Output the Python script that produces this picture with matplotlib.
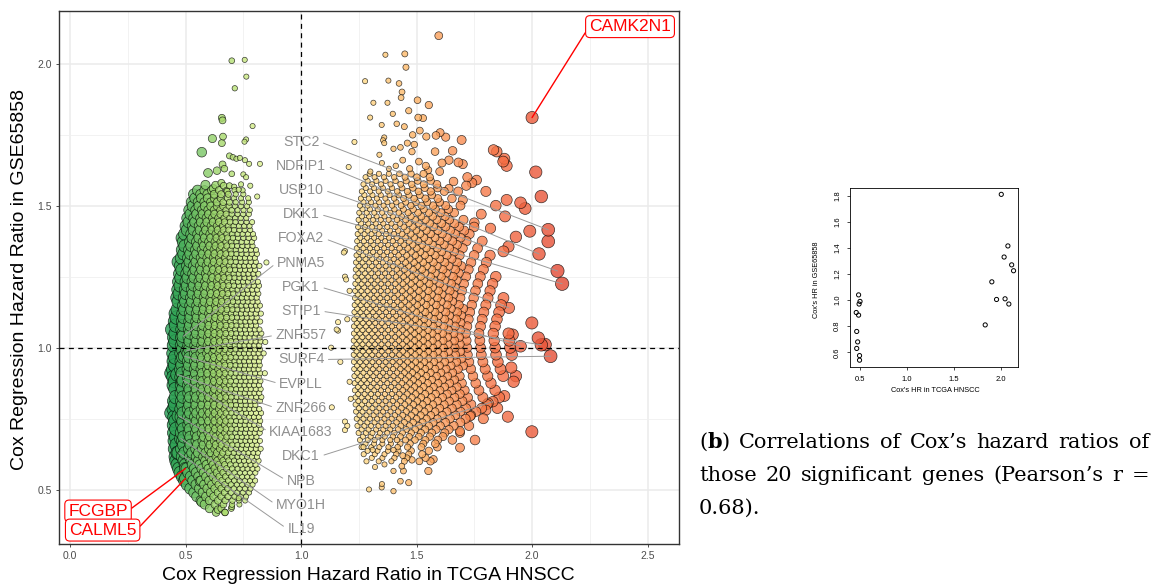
import numpy as np
import matplotlib.pyplot as plt
from matplotlib.colors import Normalize

# ---- the 20 significant genes (TCGA HR, GSE65858 HR) ----
genes = ["CAMK2N1", "STC2", "NDFIP1", "USP10", "DKK1", "FOXA2", "PGK1", "STIP1",
         "SURF4", "DKC1", "PNMA5", "ZNF557", "EVPLL", "ZNF266", "KIAA1683", "NPB",
         "MYO1H", "IL19", "FCGBP", "CALML5"]
gene_tcga = [2.00, 2.07, 2.03, 2.11, 2.13, 1.90, 1.95, 2.04, 2.08, 1.83,
             0.49, 0.505, 0.495, 0.465, 0.49, 0.47, 0.48, 0.47, 0.50, 0.50]
gene_gse = [1.81, 1.415, 1.33, 1.27, 1.225, 1.14, 1.005, 1.01, 0.97, 0.81,
            1.04, 0.99, 0.97, 0.905, 0.885, 0.76, 0.68, 0.63, 0.575, 0.54]

grey_labels = ["STC2", "NDFIP1", "USP10", "DKK1", "FOXA2", "PNMA5", "PGK1", "STIP1",
               "ZNF557", "SURF4", "EVPLL", "ZNF266", "KIAA1683", "DKC1", "NPB",
               "MYO1H", "IL19"]
red_labels = ["CAMK2N1", "FCGBP", "CALML5"]

# ---- background genes, read row by row: GSE HR, TCGA HR in thousandths ----
green_rows = [
    (0.420, "632 671"),
    (0.434, "604 655 698"),
    (0.448, "583 627 664 701 733"),
    (0.462, "566 604 641 672 703 731 758"),
    (0.476, "549 589 622 655 684 712 739 762"),
    (0.490, "537 575 608 640 669 697 723 748 775"),
    (0.504, "521 560 594 626 655 683 709 734 757 781"),
    (0.518, "507 546 581 613 643 671 697 722 745 769 790"),
    (0.532, "496 533 568 601 631 659 686 711 734 757 779 801"),
    (0.546, "487 523 557 589 619 647 674 699 722 745 767 789"),
    (0.560, "478 513 547 579 608 636 663 688 712 735 757 778 802"),
    (0.574, "472 506 539 570 599 627 653 678 702 725 747 768 790 811"),
    (0.588, "466 499 531 562 591 619 645 670 694 717 739 760 781 803"),
    (0.602, "461 494 526 556 585 612 638 663 687 710 732 753 774 795 816"),
    (0.616, "458 487 519 547 577 603 631 655 680 702 725 745 767 787 809"),
    (0.630, "466 497 529 556 586 611 637 662 685 709 730 752 772 794 813"),
    (0.644, "455 484 516 545 572 600 626 649 674 697 718 741 761 783 804 825"),
    (0.658, "462 492 522 552 579 607 632 656 680 703 724 746 766 788 808"),
    (0.672, "454 488 517 546 574 599 624 650 672 696 717 739 759 780 801 822"),
    (0.686, "459 493 521 551 580 605 631 655 679 700 723 743 765 785 807"),
    (0.700, "452 483 514 544 571 598 622 648 670 693 716 737 758 779 799 821"),
    (0.714, "460 491 519 549 577 603 629 652 676 698 721 741 762 784 804 826"),
    (0.728, "451 485 513 542 569 597 621 646 669 692 713 735 756 777 797 818"),
    (0.742, "457 489 518 547 575 601 627 651 674 696 719 739 760 782 802 823"),
    (0.756, "453 482 512 540 568 594 619 644 667 690 712 733 755 775 796 817"),
    (0.770, "441 490 520 549 576 603 628 653 676 699 720 742 762 783 805 827"),
    (0.784, "450 481 511 541 567 595 620 645 668 691 714 734 756 776 797 819"),
    (0.798, "456 488 517 546 574 600 626 650 673 697 718 740 760 782 802"),
    (0.812, "452 484 514 543 570 597 622 647 671 693 715 737 757 779 799 822"),
    (0.826, "459 490 520 548 576 602 628 652 675 698 721 741 763 784 806 828"),
    (0.840, "482 513 542 569 596 621 645 669 692 713 736 756 778 798 819"),
    (0.854, "457 488 518 547 575 601 626 651 674 697 719 740 762 782 804 825"),
    (0.868, "450 483 512 541 568 595 619 644 668 690 712 734 755 776 797 818"),
    (0.882, "455 487 516 545 573 599 625 649 673 695 718 739 760 781 802 824"),
    (0.896, "449 481 511 540 567 594 620 643 667 689 711 733 754 775 796 817"),
    (0.910, "441 486 515 544 572 598 624 648 672 696 717 738 759 780 801 823 843"),
    (0.924, "448 480 510 539 566 593 618 642 666 688 710 732 753 774 795 816"),
    (0.938, "455 485 516 545 571 599 623 648 671 694 716 737 758 779 800 821"),
    (0.952, "450 482 511 540 568 594 619 644 667 690 712 733 754 775 797 818"),
    (0.966, "456 488 517 546 573 600 625 649 673 696 717 739 760 781 802 824"),
    (0.980, "449 481 510 539 566 593 618 643 666 689 711 732 753 774 795 816 838"),
    (0.994, "487 516 545 572 599 624 648 672 695 716 738 759 780 801 822"),
    (1.008, "451 483 513 541 569 595 621 645 668 691 713 734 755 776 798 819"),
    (1.022, "457 489 518 547 574 601 626 650 674 697 718 740 761 782 803 825"),
    (1.036, "452 484 514 542 570 596 622 646 669 692 714 735 756 777 799 821"),
    (1.050, "458 490 519 548 575 602 627 651 675 698 719 741 762 783 804 828"),
    (1.064, "444 485 515 543 571 597 623 647 670 693 715 736 757 778 800 820"),
    (1.078, "459 491 520 549 576 603 628 652 676 699 720 742 763 784 805"),
    (1.092, "455 487 517 545 573 599 625 649 672 695 717 738 759 780 802 823"),
    (1.106, "462 493 522 551 578 605 630 654 678 701 722 744 765 786 808"),
    (1.120, "458 489 519 547 575 601 627 651 674 697 719 740 761 782 804 826"),
    (1.134, "466 496 525 553 580 607 632 656 680 703 724 746 767 788 810"),
    (1.148, "492 521 549 577 603 629 653 676 699 721 742 763 784 806 822"),
    (1.162, "470 500 528 556 583 609 634 658 682 705 726 748 769 790 812"),
    (1.176, "465 495 524 552 579 606 631 655 678 701 723 744 765 786 808"),
    (1.190, "474 503 531 559 586 612 637 661 684 707 728 750 771 792 815"),
    (1.204, "469 499 527 555 582 608 634 658 681 703 725 746 767 789 810"),
    (1.218, "478 507 535 562 589 615 640 664 687 709 731 752 773 795 818"),
    (1.232, "472 502 530 558 585 611 636 660 683 706 727 749 770 791 813"),
    (1.246, "481 510 538 566 592 618 643 667 689 712 733 755 776 798"),
    (1.260, "476 505 533 561 588 614 639 663 686 708 730 751 772 794 815"),
    (1.274, "485 514 542 569 595 621 646 669 692 714 736 757 779 801"),
    (1.288, "479 508 536 564 591 617 642 666 689 711 733 754 775 797 820"),
    (1.302, "470 518 546 573 599 624 649 672 695 717 739 760 782 804"),
    (1.316, "483 512 540 567 594 620 645 669 692 714 736 757 779 800"),
    (1.330, "493 521 549 576 602 627 652 675 698 720 742 764 786 809"),
    (1.344, "487 516 544 571 597 623 648 672 695 717 739 761 783 805"),
    (1.358, "497 525 553 580 606 631 655 679 701 723 746 768 790"),
    (1.372, "491 520 548 575 601 627 651 675 698 720 743 765 787"),
    (1.386, "486 530 558 584 610 635 659 682 705 727 750 773 797"),
    (1.400, "496 525 553 580 606 631 655 679 702 725 747 770 792"),
    (1.414, "507 535 563 589 615 640 664 687 710 733 756 780"),
    (1.428, "502 531 559 585 611 636 661 685 708 731 754 777"),
    (1.442, "514 541 568 594 620 645 669 693 716 740 764 788"),
    (1.456, "509 537 565 591 617 642 667 691 715 739 763"),
    (1.470, "522 549 575 601 626 651 676 700 725 749 774"),
    (1.484, "517 545 572 598 624 650 675 700 725 751 778"),
    (1.498, "531 558 584 610 636 662 688 714 740 766"),
    (1.512, "527 555 582 609 636 663 690 717 745 774"),
    (1.526, "541 568 596 624 652 681 710 740 771"),
    (1.540, "536 565 594 624 654 685 717 750"),
    (1.554, "552 582 613 645 678 712 747"),
]
green_extra_x = [0.70, 0.756, 0.763, 0.713, 0.657, 0.66, 0.79, 0.616, 0.662, 0.657,
                 0.762, 0.755, 0.57, 0.69, 0.705, 0.72, 0.735, 0.757, 0.775, 0.822,
                 0.66, 0.668, 0.597, 0.636, 0.70, 0.75, 0.762, 0.586, 0.63, 0.655,
                 0.665, 0.69, 0.71, 0.74, 0.78, 0.68, 0.73, 0.81, 0.62, 0.563, 0.57,
                 0.64, 0.67, 0.70, 0.73, 0.85, 0.845]
green_extra_y = [2.01, 2.013, 1.954, 1.913, 1.809, 1.80, 1.78, 1.736, 1.743, 1.72,
                 1.733, 1.725, 1.688, 1.675, 1.67, 1.665, 1.668, 1.66, 1.647, 1.647,
                 1.645, 1.63, 1.615, 1.623, 1.612, 1.61, 1.60, 1.573, 1.572, 1.58,
                 1.57, 1.57, 1.566, 1.575, 1.57, 1.55, 1.556, 1.532, 1.56, 0.53, 0.457,
                 0.43, 0.42, 0.44, 0.47, 1.30, 1.02]

orange_rows = [
    (0.600, "1283 1336 1391 1447 1512"),
    (0.612, "1306 1352 1404 1458 1539"),
    (0.625, "1271 1319 1361 1412 1466 1524"),
    (0.637, "1288 1331 1376 1421 1477 1553"),
    (0.650, "1262 1304 1339 1378 1418 1461 1521 1590"),
    (0.662, "1279 1316 1352 1389 1429 1472 1529 1581"),
    (0.675, "1255 1289 1318 1352 1386 1415 1452 1493 1538 1592 1655"),
    (0.687, "1268 1301 1334 1362 1397 1430 1468 1509 1557 1614"),
    (0.700, "1249 1281 1309 1341 1373 1404 1439 1477 1519 1566 1622 1688"),
    (0.712, "1262 1292 1325 1356 1386 1420 1455 1494 1537 1585 1640"),
    (0.725, "1244 1274 1303 1335 1366 1397 1432 1469 1510 1553 1603 1661 1727"),
    (0.737, "1257 1287 1318 1348 1379 1413 1447 1485 1526 1572 1625 1689"),
    (0.750, "1241 1270 1298 1329 1361 1392 1425 1461 1500 1543 1590 1645 1712 1789"),
    (0.762, "1253 1283 1314 1344 1374 1406 1440 1477 1518 1562 1611 1668 1735"),
    (0.775, "1238 1266 1296 1326 1355 1387 1420 1455 1493 1534 1580 1631 1690 1757"),
    (0.787, "1250 1279 1309 1339 1369 1401 1434 1470 1510 1553 1600 1653 1714 1782 1850"),
    (0.800, "1236 1264 1293 1322 1352 1383 1415 1449 1486 1526 1570 1619 1674 1736 1805"),
    (0.812, "1248 1276 1306 1336 1366 1397 1430 1465 1503 1545 1591 1641 1698"),
    (0.825, "1235 1262 1290 1319 1349 1379 1411 1444 1480 1520 1564 1612 1664 1722 1787 1858"),
    (0.837, "1247 1275 1303 1333 1363 1393 1425 1459 1496 1537 1582 1632 1687"),
    (0.850, "1233 1260 1288 1317 1346 1376 1407 1440 1475 1513 1555 1601 1652 1708 1770 1840"),
    (0.862, "1246 1273 1301 1330 1360 1390 1422 1455 1491 1530 1573 1621 1674"),
    (0.875, "1232 1259 1286 1314 1343 1373 1404 1436 1470 1507 1548 1593 1642 1696 1756 1822"),
    (0.887, "1245 1272 1299 1328 1357 1387 1418 1451 1486 1524 1566 1612 1663"),
    (0.900, "1231 1257 1285 1313 1341 1370 1400 1432 1466 1502 1542 1586 1634 1687 1744 1808 1875"),
    (0.912, "1243 1270 1298 1326 1355 1384 1415 1447 1482 1519 1560 1605 1655"),
    (0.925, "1230 1256 1283 1311 1339 1368 1398 1429 1462 1498 1537 1580 1627 1679 1735 1797 1863"),
    (0.937, "1242 1269 1296 1324 1353 1382 1412 1444 1478 1515 1555 1599 1648 1701"),
    (0.950, "1229 1255 1282 1309 1337 1366 1396 1427 1460 1495 1533 1575 1621 1672 1727 1787 1852"),
    (0.962, "1241 1268 1295 1323 1351 1380 1410 1442 1476 1512 1551 1594 1642 1694"),
    (0.975, "1228 1254 1281 1308 1336 1364 1394 1425 1458 1493 1531 1572 1617 1667 1721 1780 1844 1912"),
    (0.987, "1240 1267 1294 1321 1349 1378 1408 1440 1474 1510 1549 1591 1638 1689"),
    (1.000, "1228 1253 1280 1307 1335 1363 1393 1424 1457 1492 1530 1571 1616 1665 1719 1777 1840 1905"),
    (1.012, "1240 1266 1293 1320 1348 1377 1407 1439 1473 1509 1548 1590 1636 1687"),
    (1.025, "1228 1253 1279 1306 1334 1362 1392 1423 1456 1491 1528 1569 1614 1663 1716 1774 1836 1901"),
    (1.037, "1240 1265 1292 1319 1347 1376 1406 1438 1471 1507 1546 1588 1634 1684"),
    (1.050, "1229 1254 1280 1307 1334 1363 1392 1423 1455 1490 1527 1568 1612 1660 1713 1770 1832 1898"),
    (1.062, "1241 1266 1293 1320 1348 1377 1407 1439 1473 1509 1548 1590 1637 1688"),
    (1.075, "1229 1254 1281 1308 1336 1364 1394 1425 1458 1493 1531 1572 1617 1666 1719 1777 1840"),
    (1.087, "1241 1267 1294 1321 1349 1378 1408 1440 1474 1510 1549 1592 1639 1690"),
    (1.100, "1230 1255 1282 1309 1337 1366 1396 1427 1460 1495 1533 1575 1621 1671 1725 1784 1848"),
    (1.112, "1242 1268 1295 1323 1351 1380 1410 1442 1476 1512 1552 1595 1642 1693"),
    (1.125, "1231 1257 1284 1311 1339 1368 1398 1430 1463 1499 1538 1580 1626 1676 1731 1791 1857"),
    (1.137, "1243 1269 1297 1325 1353 1383 1413 1445 1480 1517 1557 1601 1649 1701"),
    (1.150, "1232 1258 1285 1313 1341 1370 1401 1433 1467 1503 1542 1585 1632 1683 1739 1800 1866"),
    (1.162, "1244 1270 1298 1326 1355 1385 1416 1448 1483 1520 1561 1606 1655"),
    (1.175, "1233 1259 1287 1315 1343 1373 1403 1436 1470 1507 1547 1590 1638 1690 1747 1809 1876"),
    (1.187, "1245 1272 1300 1328 1357 1387 1418 1451 1486 1524 1565 1610 1660"),
    (1.200, "1234 1261 1288 1316 1345 1375 1406 1438 1473 1510 1551 1595 1644 1697 1755 1818"),
    (1.212, "1246 1273 1301 1330 1359 1389 1421 1454 1490 1528 1570 1616 1666"),
    (1.225, "1235 1262 1290 1318 1347 1377 1408 1441 1476 1514 1555 1600 1650 1705 1765 1829"),
    (1.237, "1247 1274 1302 1331 1361 1391 1423 1457 1493 1532 1575 1622 1674"),
    (1.250, "1236 1263 1291 1320 1349 1379 1411 1444 1480 1519 1561 1607 1658 1714 1776 1843"),
    (1.262, "1248 1276 1304 1333 1363 1394 1426 1460 1497 1537 1581 1629 1683"),
    (1.275, "1237 1265 1293 1322 1352 1382 1414 1448 1485 1524 1567 1614 1667 1725 1789"),
    (1.287, "1249 1277 1306 1336 1366 1397 1430 1465 1503 1544 1589 1639 1694"),
    (1.300, "1238 1266 1295 1324 1354 1385 1418 1452 1489 1529 1573 1622 1676 1736 1802"),
    (1.312, "1250 1279 1308 1338 1369 1401 1435 1471 1510 1553 1600 1652"),
    (1.325, "1240 1268 1297 1327 1357 1389 1422 1457 1495 1536 1581 1631 1687 1749 1818"),
    (1.337, "1252 1281 1311 1341 1372 1405 1439 1476 1516 1560 1608 1662"),
    (1.350, "1241 1270 1299 1329 1360 1392 1426 1462 1501 1543 1590 1642 1700 1764"),
    (1.362, "1254 1283 1313 1344 1376 1409 1445 1483 1524 1569 1619 1675"),
    (1.375, "1243 1272 1302 1332 1364 1397 1431 1468 1508 1552 1601 1655 1716 1784"),
    (1.387, "1256 1286 1316 1347 1380 1414 1451 1490 1533 1580 1632 1690"),
    (1.400, "1245 1275 1305 1336 1368 1402 1437 1475 1516 1561 1611 1667 1729"),
    (1.412, "1258 1288 1319 1351 1385 1420 1458 1499 1543 1592 1646 1706"),
    (1.425, "1247 1277 1308 1340 1373 1408 1445 1484 1527 1574 1626 1684 1749"),
    (1.437, "1260 1291 1323 1356 1391 1428 1467 1510 1557 1608 1664"),
    (1.450, "1249 1280 1312 1345 1379 1415 1453 1494 1539 1588 1642 1703"),
    (1.462, "1263 1294 1327 1361 1397 1435 1476 1521 1570 1624"),
    (1.475, "1252 1284 1317 1351 1386 1423 1463 1506 1553 1605 1663"),
    (1.487, "1266 1298 1332 1367 1404 1443 1485 1531 1582 1638"),
    (1.500, "1255 1288 1322 1357 1394 1433 1475 1521 1571 1626 1690"),
    (1.512, "1270 1303 1338 1374 1412 1453 1497 1546 1600"),
    (1.525, "1259 1293 1328 1365 1403 1444 1489 1538 1592 1653"),
    (1.537, "1274 1309 1345 1383 1423 1467 1514 1566"),
    (1.550, "1263 1299 1336 1375 1416 1460 1508 1561 1620"),
    (1.562, "1280 1316 1354 1394 1437 1484 1535 1591"),
    (1.575, "1270 1307 1346 1387 1431 1479 1531 1588"),
    (1.587, "1288 1326 1366 1409 1455 1505 1561"),
    (1.600, "1279 1318 1359 1403 1450 1501 1557"),
    (1.612, "1297 1337 1380 1426 1476 1530"),
]
orange_extra_x = [1.596, 1.365, 1.449, 1.454, 1.277, 1.378, 1.424, 1.437, 1.433, 1.504,
                  1.553, 1.313, 1.374, 1.466, 1.397, 1.299, 1.507, 1.528, 1.349, 1.414,
                  1.447, 1.514, 1.584, 1.602, 1.626, 1.695, 1.483, 1.542, 1.36, 1.355,
                  1.36, 1.231, 1.46, 1.49, 1.43, 1.48, 1.339, 1.40, 1.656, 1.58,
                  1.833, 1.847, 1.88, 1.89, 1.875, 1.681, 1.70, 1.64, 1.61, 1.206,
                  1.35, 1.41, 1.44, 1.51, 1.54, 1.55, 1.30, 1.38, 1.47, 1.60,
                  2.016, 1.72, 1.76, 1.74, 1.715, 1.66, 2.04, 1.843, 1.883, 1.89,
                  1.95, 1.97, 2.07, 1.99, 1.93, 1.898, 1.876, 1.78, 1.82, 1.75,
                  1.70, 1.68, 1.64, 1.80, 1.999, 2.027, 2.056, 1.916, 1.91, 1.93,
                  1.92, 1.88, 1.81, 1.80, 1.999, 1.895, 1.732, 1.753, 1.688, 1.688,
                  1.573, 1.56, 1.551, 1.436, 1.443, 1.40, 1.466, 1.43, 1.40, 1.349,
                  1.35, 1.294, 1.361, 1.32, 1.48, 1.40, 1.44, 1.31, 1.27, 1.133,
                  1.19, 1.19, 1.20, 1.16, 1.16, 1.17, 1.19, 1.185, 1.19, 1.195,
                  1.154, 1.13, 1.21, 1.20, 1.21, 1.215]
orange_extra_y = [2.098, 2.031, 2.034, 1.987, 1.938, 1.94, 1.93, 1.90, 1.88, 1.871,
                  1.854, 1.862, 1.862, 1.834, 1.823, 1.81, 1.81, 1.808, 1.784, 1.788,
                  1.778, 1.764, 1.747, 1.757, 1.741, 1.731, 1.749, 1.743, 1.74, 1.73,
                  1.72, 1.724, 1.72, 1.715, 1.705, 1.69, 1.679, 1.70, 1.693, 1.69,
                  1.696, 1.69, 1.665, 1.64, 1.655, 1.652, 1.646, 1.66, 1.65, 1.636,
                  1.65, 1.64, 1.66, 1.655, 1.64, 1.625, 1.62, 1.63, 1.63, 1.62,
                  1.618, 1.60, 1.59, 1.58, 1.57, 1.585, 1.532, 1.50, 1.462, 1.52,
                  1.51, 1.49, 1.374, 1.41, 1.39, 1.356, 1.339, 1.47, 1.42, 1.44,
                  1.52, 1.55, 1.56, 1.55, 1.087, 1.034, 1.011, 1.046, 0.93, 0.90,
                  0.88, 0.83, 0.805, 0.78, 0.704, 0.757, 0.759, 0.675, 0.648, 0.706,
                  0.607, 0.60, 0.566, 0.583, 0.566, 0.566, 0.525, 0.53, 0.495, 0.508,
                  0.52, 0.501, 0.589, 0.58, 0.605, 0.64, 0.62, 0.64, 0.65, 0.79,
                  0.74, 0.71, 0.725, 1.09, 1.06, 0.95, 1.34, 1.335, 1.25, 1.24,
                  1.064, 1.0, 1.20, 1.10, 0.88, 0.82]


def unpack(rows):
    xs, ys = [], []
    for yv, s in rows:
        for v in s.split():
            xs.append(int(v) / 1000)
            ys.append(yv)
    return xs, ys


gx, gy = unpack(green_rows)
ox, oy = unpack(orange_rows)
hr_tcga = np.array(gx + green_extra_x + ox + orange_extra_x + gene_tcga)
hr_gse = np.array(gy + green_extra_y + oy + orange_extra_y + gene_gse)

# size and colour follow |log HR| in TCGA
radius = np.clip(9.5 * np.abs(np.log(hr_tcga)) - 0.5, 2.6, None)
sizes = (1.44 * radius) ** 2
cmap = plt.get_cmap("RdYlGn_r")
face = cmap(Normalize(-1.05, 1.05)(np.log(hr_tcga)))
face[:, 3] = 0.8
order = np.argsort(-sizes, kind="stable")

W, H = 1156, 586
fig = plt.figure(figsize=(W / 100, H / 100), dpi=100)
plt.rcParams["font.family"] = ["Liberation Sans", "DejaVu Sans"]

# ---------------- panel (a) ----------------
ax = fig.add_axes([59 / W, 1 - 544 / H, 620 / W, 533 / H])
ax.scatter(hr_tcga[order], hr_gse[order], s=sizes[order], c=face[order],
           edgecolors=(0, 0, 0, 0.75), linewidths=0.5, zorder=2)
ax.axvline(1.0, color="black", lw=0.9, ls=(0, (4, 3.5)), zorder=3)
ax.axhline(1.0, color="black", lw=0.9, ls=(0, (4, 3.5)), zorder=3)

ax.set_xlim(-0.048, 2.636)
ax.set_ylim(0.309, 2.185)
ax.set_xticks([0.0, 0.5, 1.0, 1.5, 2.0, 2.5])
ax.set_yticks([0.5, 1.0, 1.5, 2.0])
ax.set_xticks(np.arange(0.25, 2.6, 0.5), minor=True)
ax.set_yticks(np.arange(0.75, 2.2, 0.5), minor=True)
ax.grid(which="major", color="#ebebeb", lw=1.1)
ax.grid(which="minor", color="#f0f0f0", lw=0.6)
ax.set_axisbelow(True)
ax.tick_params(which="major", length=2.5, width=0.6, color="#333333",
               labelcolor="#4d4d4d", labelsize=7.5, pad=2.5)
ax.tick_params(which="minor", length=0)
for sp in ax.spines.values():
    sp.set_color("#333333")
    sp.set_linewidth(1.0)

fig.text(368 / W, 1 - 575 / H, "Cox Regression Hazard Ratio in TCGA HNSCC",
         ha="center", va="center", fontsize=14)
fig.text(20 / W, 1 - 279 / H, "Cox Regression Hazard Ratio in GSE65858",
         ha="center", va="center", fontsize=14, rotation=90)

# repelled gene labels stacked along x = 1
lookup = {g: (gene_tcga[i], gene_gse[i]) for i, g in enumerate(genes)}
label_y = np.linspace(1.7255, 0.362, len(grey_labels))
for name, ly in zip(grey_labels, label_y):
    px, py = lookup[name]
    ax.annotate(name, xy=(px, py), xytext=(1.0, ly), ha="center", va="center",
                color="#8f8f8f", fontsize=10.2, zorder=4,
                arrowprops=dict(arrowstyle="-", color="#9a9a9a", lw=0.7,
                                shrinkA=1, shrinkB=0,
                                relpos=(1, 0.5) if px > 1 else (0, 0.5)))

red_pos = {"CAMK2N1": (2.424, 2.13), "FCGBP": (0.121, 0.425), "CALML5": (0.141, 0.358)}
for name in red_labels:
    px, py = lookup[name]
    ax.annotate(name, xy=(px, py), xytext=red_pos[name], ha="center", va="center",
                color="red", fontsize=12.5, zorder=5,
                bbox=dict(boxstyle="round,pad=0.2,rounding_size=0.25", fc="white",
                          ec="red", lw=0.8),
                arrowprops=dict(arrowstyle="-", color="red", lw=1.0, shrinkA=0,
                                shrinkB=0,
                                relpos=(0, 0.5) if px > 1 else (1, 0.5)))

# ---------------- panel (b) ----------------
ax2 = fig.add_axes([850 / W, 1 - 366.7 / H, 168 / W, 179 / H])
ax2.scatter(gene_tcga, gene_gse, s=9, facecolors="none", edgecolors="black",
            linewidths=0.7)
ax2.set_xlim(0.399, 2.177)
ax2.set_ylim(0.49, 1.861)
ax2.set_xticks([0.5, 1.0, 1.5, 2.0])
ax2.set_xticklabels(["0.5", "1.0", "1.5", "2.0"])
ax2.set_yticks([0.6, 0.8, 1.0, 1.2, 1.4, 1.6, 1.8])
ax2.set_yticklabels(["0.6", "0.8", "1.0", "1.2", "1.4", "1.6", "1.8"],
                    rotation=90, va="center")
ax2.tick_params(length=2.2, width=0.5, labelsize=5.5, pad=4.2)
for sp in ax2.spines.values():
    sp.set_linewidth(0.6)
fig.text(935 / W, 1 - 390 / H, "Cox's HR in TCGA HNSCC", ha="center", va="center",
         fontsize=5.3)
fig.text(816.7 / W, 1 - 280 / H, "Cox's HR in GSE65858", ha="center", va="center",
         fontsize=5.3, rotation=90)

# ---------------- caption, justified ----------------
cap_fs = 15
cap_font = "DejaVu Serif"
fig.canvas.draw()
renderer = fig.canvas.get_renderer()


def run_width(s, weight):
    t = fig.text(0, 0, s, fontsize=cap_fs, family=cap_font, weight=weight)
    w = t.get_window_extent(renderer).width
    t.remove()
    return w


def put_line(words, baseline, x0, x1=None):
    widths = [[run_width(s, wt) for s, wt in w] for w in words]
    totals = [sum(w) for w in widths]
    gap = run_width("a a", "normal") - 2 * run_width("a", "normal")
    if x1 is not None and len(words) > 1:
        gap = (x1 - x0 - sum(totals)) / (len(words) - 1)
    x = x0
    for w, ws, tot in zip(words, widths, totals):
        xx = x
        for (s, wt), rw in zip(w, ws):
            fig.text(xx / W, 1 - baseline / H, s, fontsize=cap_fs, family=cap_font,
                     weight=wt, va="baseline", ha="left")
            xx += rw
        x += tot + gap


def plain(text):
    return [[(w, "normal")] for w in text.split()]


line1 = [[("(", "normal"), ("b", "bold"), (")", "normal")]] + \
    plain("Correlations of Cox\u2019s hazard ratios of")
line2 = plain("those 20 significant genes (Pearson\u2019s r =")
line3 = plain("0.68).")
put_line(line1, 448, 699, 1149)
put_line(line2, 481, 699, 1149)
put_line(line3, 514, 699)

fig.savefig("out.png", dpi=100)
